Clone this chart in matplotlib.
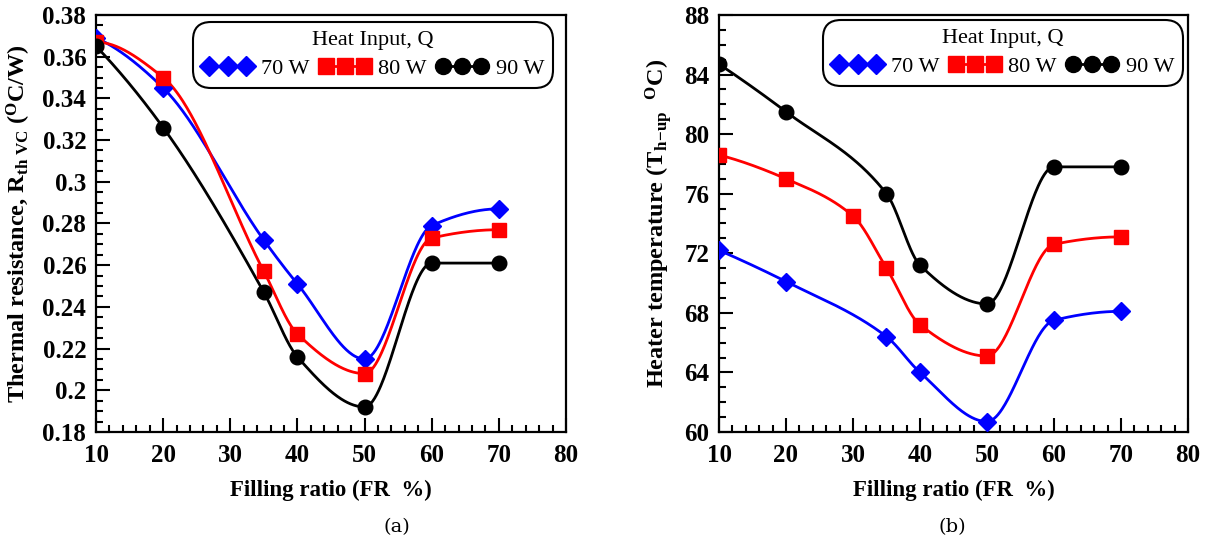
import numpy as np
import matplotlib
matplotlib.use("Agg")
import matplotlib.pyplot as plt
from matplotlib.ticker import MultipleLocator, FuncFormatter

# ---------------- data ----------------
series_labels = ["70 W", "80 W", "90 W"]
colors = ["#0000ff", "#ff0000", "#000000"]
markers = ["D", "s", "o"]

# (a) thermal resistance
fr_a_70 = [10, 20, 35, 40, 50, 60, 70]
rth_70 = [0.369, 0.345, 0.272, 0.251, 0.215, 0.279, 0.287]
fr_a_80 = [10, 20, 35, 40, 50, 60, 70]
rth_80 = [0.367, 0.350, 0.257, 0.227, 0.208, 0.273, 0.277]
fr_a_90 = [10, 20, 35, 40, 50, 60, 70]
rth_90 = [0.365, 0.326, 0.247, 0.216, 0.192, 0.261, 0.261]

# (b) heater temperature
fr_b_70 = [10, 20, 35, 40, 50, 60, 70]
th_70 = [72.2, 70.1, 66.4, 64.0, 60.7, 67.5, 68.1]
fr_b_80 = [10, 20, 30, 35, 40, 50, 60, 70]
th_80 = [78.6, 77.0, 74.5, 71.0, 67.2, 65.1, 72.6, 73.1]
fr_b_90 = [10, 20, 35, 40, 50, 60, 70]
th_90 = [84.7, 81.5, 76.0, 71.2, 68.6, 77.8, 77.8]

xticks = [10, 20, 30, 40, 50, 60, 70, 80]
yticks_a = [0.18, 0.20, 0.22, 0.24, 0.26, 0.28, 0.30, 0.32, 0.34, 0.36, 0.38]
yticks_b = [60, 64, 68, 72, 76, 80, 84, 88]

# ---------------- style ----------------
plt.rcParams['font.family'] = ['Liberation Serif', 'DejaVu Serif']
plt.rcParams['mathtext.fontset'] = 'custom'
plt.rcParams['mathtext.rm'] = 'Liberation Serif:bold'
plt.rcParams['mathtext.bf'] = 'Liberation Serif:bold'
plt.rcParams['mathtext.it'] = 'Liberation Serif:bold'


def pchip_curve(x, y, n=400):
    """Shape-preserving (Fritsch-Carlson) curve through the data points."""
    x = np.asarray(x, float)
    y = np.asarray(y, float)
    h = np.diff(x)
    d = np.diff(y) / h
    k = len(x)
    m = np.zeros(k)
    for i in range(1, k - 1):
        if d[i - 1] * d[i] <= 0:
            m[i] = 0.0
        else:
            w1 = 2 * h[i] + h[i - 1]
            w2 = h[i] + 2 * h[i - 1]
            m[i] = (w1 + w2) / (w1 / d[i - 1] + w2 / d[i])

    def end(h0, h1, d0, d1):
        mm = ((2 * h0 + h1) * d0 - h0 * d1) / (h0 + h1)
        if np.sign(mm) != np.sign(d0):
            mm = 0.0
        elif np.sign(d0) != np.sign(d1) and abs(mm) > abs(3 * d0):
            mm = 3 * d0
        return mm

    m[0] = end(h[0], h[1], d[0], d[1])
    m[-1] = end(h[-1], h[-2], d[-1], d[-2])
    xs = np.linspace(x[0], x[-1], n)
    ys = np.empty_like(xs)
    for j, xv in enumerate(xs):
        i = int(np.clip(np.searchsorted(x, xv, side='right') - 1, 0, k - 2))
        t = (xv - x[i]) / h[i]
        h00 = 2 * t ** 3 - 3 * t ** 2 + 1
        h10 = t ** 3 - 2 * t ** 2 + t
        h01 = -2 * t ** 3 + 3 * t ** 2
        h11 = t ** 3 - t ** 2
        ys[j] = h00 * y[i] + h10 * h[i] * m[i] + h01 * y[i + 1] + h11 * h[i] * m[i + 1]
    return xs, ys


fig = plt.figure(figsize=(12.08, 5.42), dpi=100)
axA = fig.add_axes([0.0795, 0.203, 0.389, 0.7694])
axB = fig.add_axes([0.5952, 0.203, 0.3882, 0.7694])

msizes = [9, 10, 10.5]


def draw(ax, xs_list, ys_list):
    for xs, ys, c, m, lab, ms in zip(xs_list, ys_list, colors, markers, series_labels, msizes):
        sx, sy = pchip_curve(xs, ys)
        ax.plot(sx, sy, color=c, lw=2.0, zorder=2)
        ax.plot(xs, ys, linestyle='none', marker=m, color=c, ms=ms, zorder=3)
        ax.plot([], [], color=c, lw=2.0, marker=m, ms=ms + 1, label=lab)


def style(ax, yticks, ymin, ymax, ymin_minor, fmt):
    ax.set_xlim(10, 80)
    ax.set_ylim(ymin, ymax)
    ax.set_xticks(xticks)
    ax.set_yticks(yticks)
    ax.xaxis.set_minor_locator(MultipleLocator(2))
    ax.yaxis.set_minor_locator(MultipleLocator(ymin_minor))
    ax.yaxis.set_major_formatter(FuncFormatter(fmt))
    ax.tick_params(which='both', direction='in', top=False, right=False, width=1.5)
    ax.tick_params(which='major', length=10, pad=7, labelsize=18)
    ax.tick_params(axis='x', which='major', pad=9)
    ax.tick_params(which='minor', length=5)
    for lab in ax.get_xticklabels() + ax.get_yticklabels():
        lab.set_fontweight('bold')
    for s in ax.spines.values():
        s.set_linewidth(1.6)
    ax.set_xlabel("Filling ratio (FR  %)", fontsize=16.5, fontweight='bold', labelpad=9)


def legend(ax, anchor):
    leg = ax.legend(loc='upper right', bbox_to_anchor=anchor, borderaxespad=0,
                    ncol=3, numpoints=3, title="Heat Input, Q",
                    title_fontsize=16, fontsize=16, frameon=True, fancybox=True,
                    edgecolor='black', framealpha=1, handlelength=2.3,
                    handletextpad=0.35, columnspacing=0.45, borderpad=0.2,
                    labelspacing=0.2)
    leg._legend_box.sep = 6
    leg.get_frame().set_linewidth(1.5)
    leg.get_frame().set_boxstyle('round', pad=0.2, rounding_size=0.8)
    return leg


draw(axA, [fr_a_70, fr_a_80, fr_a_90], [rth_70, rth_80, rth_90])
style(axA, yticks_a, 0.18, 0.38, 0.005, lambda v, p: ("%g" % round(v, 3)))
axA.set_ylabel(r"Thermal resistance, R$_{\mathbf{th\ VC}}$ ($^{\mathbf{O}}$C/W)",
               fontsize=17.5, fontweight='bold', labelpad=7)
legend(axA, (0.963, 0.972))

draw(axB, [fr_b_70, fr_b_80, fr_b_90], [th_70, th_80, th_90])
style(axB, yticks_b, 60, 88, 1, lambda v, p: "%d" % v)
axB.set_ylabel(r"Heater temperature (T$_{\mathbf{h\!-\!up}}$  $^{\mathbf{O}}$C)",
               fontsize=17.5, fontweight='bold', labelpad=7)
legend(axB, (0.980, 0.977))

fig.text(397 / 1208, 1 - 527 / 542, "(a)", fontsize=14, ha='center', va='center',
         family=['DejaVu Serif'])
fig.text(952 / 1208, 1 - 527 / 542, "(b)", fontsize=14, ha='center', va='center',
         family=['DejaVu Serif'])

fig.savefig("out.png", dpi=100)
